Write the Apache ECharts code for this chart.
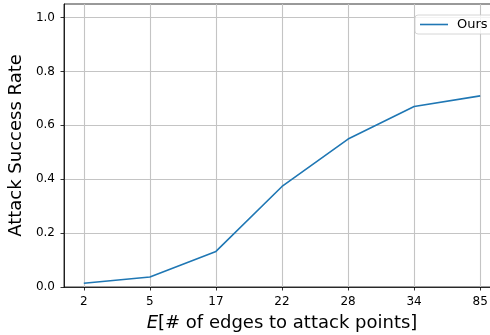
<!DOCTYPE html>
<html><head><meta charset="utf-8">
<script src="https://cdn.jsdelivr.net/npm/echarts@6/dist/echarts.min.js"></script>
<style>html,body{margin:0;padding:0;background:#fff}#c{width:490px;height:335px}</style>
</head><body><div id="c"></div>
<script>
const categories = ['2','5','17','22','28','34','85'];
const oursValues = [0.014, 0.037, 0.132, 0.373, 0.549, 0.670, 0.709];
const yTicks = [0, 0.2, 0.4, 0.6, 0.8, 1.0];

const idx = categories.map((c, i) => i);
const chart = echarts.init(document.getElementById('c'), null, {renderer: 'canvas'});
const font = 'DejaVu Sans';
chart.setOption({
  animation: false,
  backgroundColor: '#fff',
  grid: {left: 64, top: 4, width: 436, height: 283, show: true, borderColor: '#000', borderWidth: 0.8,
         backgroundColor: 'transparent', outerBoundsMode: 'none', containLabel: false},
  legend: {
    data: [{name: 'Ours', icon: 'rect'}], left: 415, top: 15, orient: 'vertical',
    padding: [3, 8, 3, 5], itemWidth: 28, itemHeight: 1.6, itemGap: 5,
    backgroundColor: 'rgba(255,255,255,0.8)', borderColor: '#cccccc', borderWidth: 0.8, borderRadius: 3,
    textStyle: {fontFamily: font, fontSize: 13, color: '#000', padding: [0, 0, 0, 4]}
  },
  xAxis: {
    type: 'value', min: -0.3, max: 6.3,
    name: '{i|E}[# of edges to attack points]', nameLocation: 'middle', nameGap: 27,
    nameTextStyle: {fontFamily: font, fontSize: 18, color: '#000', rich: {i: {fontFamily: font, fontSize: 18, fontStyle: 'italic', color: '#000'}}},
    axisLine: {show: true, onZero: false, lineStyle: {color: '#000', width: 0.8}},
    axisTick: {show: true, customValues: idx, length: 3.5, lineStyle: {color: '#000', width: 0.8}},
    axisLabel: {customValues: idx, formatter: v => categories[Math.round(v)], fontFamily: font, fontSize: 12, color: '#000', margin: 9},
    splitLine: {show: true, lineStyle: {color: '#c4c4c4', width: 1.1}}
  },
  yAxis: {
    type: 'value', min: 0, max: 1.05,
    name: 'Attack Success Rate', nameLocation: 'middle', nameGap: 36,
    nameTextStyle: {fontFamily: font, fontSize: 18, color: '#000'},
    axisLine: {show: true, onZero: false, lineStyle: {color: '#000', width: 0.8}},
    axisTick: {show: true, customValues: yTicks, length: 3.5, lineStyle: {color: '#000', width: 0.8}},
    axisLabel: {customValues: yTicks, formatter: v => v.toFixed(1), fontFamily: font, fontSize: 12, color: '#000', margin: 9},
    splitLine: {show: true, lineStyle: {color: '#c4c4c4', width: 1.1}}
  },
  series: [{
    name: 'Ours', type: 'line', symbol: 'none',
    data: idx.map(i => [i, oursValues[i]]),
    lineStyle: {color: '#1f77b4', width: 1.6}, itemStyle: {color: '#1f77b4'}
  }]
});
</script></body></html>
